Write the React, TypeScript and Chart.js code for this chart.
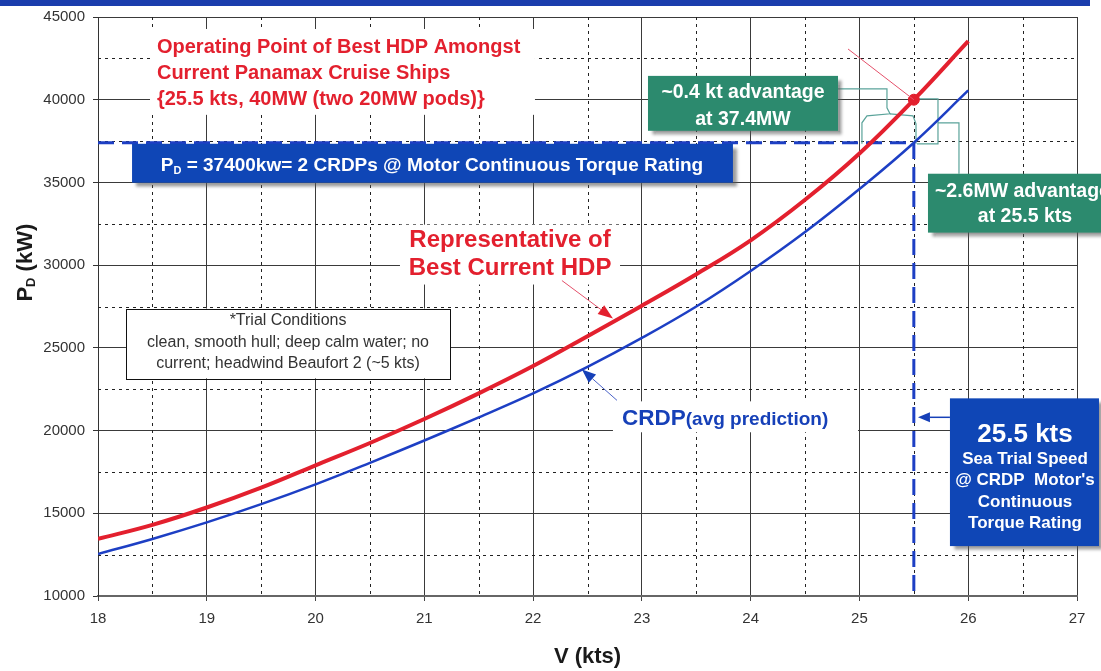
import React, { useEffect, useRef } from "react";
import { Chart, registerables } from "chart.js";

Chart.register(...registerables);

// ---------------- data ----------------
const SPEED_KTS = [18, 18.5, 19, 19.5, 20, 20.5, 21, 21.5, 22, 22.5, 23, 23.5, 24, 24.5, 25, 25.5, 26];
const HDP_KW = [13450, 14300, 15350, 16550, 17900, 19250, 20700, 22250, 23900, 25700, 27550, 29450, 31500, 33950, 36750, 40000, 43540];
const CRDP_KW = [12540, 13450, 14450, 15550, 16750, 18050, 19400, 20800, 22250, 23850, 25600, 27500, 29650, 32000, 34600, 37400, 40560];
const X_TICK_LABELS = ["18", "19", "20", "21", "22", "23", "24", "25", "26", "27"];
const Y_TICK_LABELS = ["10000", "15000", "20000", "25000", "30000", "35000", "40000", "45000"];
const RATED_POWER_KW = 37400;
const TRIAL_SPEED_KTS = 25.5;
const BEST_HDP_POINT = { x: 25.5, y: 40000 };

// ---------------- styles ----------------
const FONT = '"Liberation Sans", Arial, Helvetica, sans-serif';
const fnt = (size: number, bold = true) => `${bold ? "bold " : ""}${size}px ${FONT}`;
const RED = "#e3202e";
const BLUE_LINE = "#1d3fc4";
const BOX_BLUE = "#0f46b6";
const TEXT_BLUE = "#1640b8";
const GREEN = "#2c8a6e";
const TEAL_LINE = "#5aa39a";

type Part = { text: string; font: string; dy?: number };

function richWidth(ctx: CanvasRenderingContext2D, parts: Part[]) {
  let w = 0;
  for (const p of parts) {
    ctx.font = p.font;
    w += ctx.measureText(p.text).width;
  }
  return w;
}

function drawRich(ctx: CanvasRenderingContext2D, parts: Part[], x: number, baseline: number, align: "left" | "center" | "right") {
  const w = richWidth(ctx, parts);
  let cx = align === "center" ? x - w / 2 : align === "right" ? x - w : x;
  ctx.textAlign = "left";
  ctx.textBaseline = "alphabetic";
  for (const p of parts) {
    ctx.font = p.font;
    ctx.fillText(p.text, cx, baseline + (p.dy || 0));
    cx += ctx.measureText(p.text).width;
  }
}

function text(ctx: CanvasRenderingContext2D, s: string, x: number, yMid: number, size: number, color: string, align: CanvasTextAlign = "center", bold = true) {
  ctx.font = fnt(size, bold);
  ctx.fillStyle = color;
  ctx.textAlign = align;
  ctx.textBaseline = "alphabetic";
  ctx.fillText(s, x, yMid + size * 0.36);
}

function arrow(ctx: CanvasRenderingContext2D, x1: number, y1: number, x2: number, y2: number, lineColor: string, headColor: string, lw: number, headLen: number, headW: number) {
  const ang = Math.atan2(y2 - y1, x2 - x1);
  const bx = x2 - Math.cos(ang) * headLen;
  const by = y2 - Math.sin(ang) * headLen;
  ctx.save();
  ctx.strokeStyle = lineColor;
  ctx.lineWidth = lw;
  ctx.setLineDash([]);
  ctx.beginPath();
  ctx.moveTo(x1, y1);
  ctx.lineTo(headLen > 0 ? bx : x2, headLen > 0 ? by : y2);
  ctx.stroke();
  if (headLen > 0) {
    const nx = -Math.sin(ang) * headW / 2;
    const ny = Math.cos(ang) * headW / 2;
    ctx.fillStyle = headColor;
    ctx.beginPath();
    ctx.moveTo(x2, y2);
    ctx.lineTo(bx + nx, by + ny);
    ctx.lineTo(bx - nx, by - ny);
    ctx.closePath();
    ctx.fill();
  }
  ctx.restore();
}

const gridPlugin = {
  id: "minorGridAndBrackets",
  beforeDatasetsDraw(chart: any) {
    const { ctx, chartArea, scales } = chart;
    const X = (v: number) => scales.x.getPixelForValue(v);
    const Y = (v: number) => scales.y.getPixelForValue(v);
    ctx.save();
    ctx.strokeStyle = "#222";
    ctx.lineWidth = 1;
    ctx.setLineDash([3, 4]);
    for (let v = 18.5; v < 27; v += 1) {
      const p = Math.round(X(v)) + 0.5;
      ctx.beginPath();
      ctx.moveTo(p, chartArea.top);
      ctx.lineTo(p, chartArea.bottom);
      ctx.stroke();
    }
    for (let v = 12500; v < 45000; v += 5000) {
      const p = Math.round(Y(v)) + 0.5;
      ctx.beginPath();
      ctx.moveTo(chartArea.left, p);
      ctx.lineTo(chartArea.right, p);
      ctx.stroke();
    }
    // bracket connectors
    ctx.setLineDash([]);
    ctx.strokeStyle = TEAL_LINE;
    ctx.lineWidth = 1.2;
    const poly = (pts: number[][]) => {
      ctx.beginPath();
      pts.forEach(([a, b], i) => (i ? ctx.lineTo(X(a), Y(b)) : ctx.moveTo(X(a), Y(b))));
      ctx.stroke();
    };
    poly([[24.803, 40655], [25.253, 40655], [25.253, 39509], [25.281, 39147], [25.069, 39026], [25.023, 38604], [25.023, 37336]]);
    poly([[25.281, 39147], [25.492, 39026], [25.52, 38543], [25.52, 37336]]);
    poly([[25.492, 40052], [25.722, 40052], [25.722, 37336], [25.529, 37336]]);
    poly([[25.722, 38604], [25.915, 38604], [25.915, 35526]]);
    ctx.restore();
  },
  afterDatasetsDraw(chart: any) {
    const { ctx, scales } = chart;
    const X = (v: number) => scales.x.getPixelForValue(v);
    const Y = (v: number) => scales.y.getPixelForValue(v);
    const rect = (x1: number, y1: number, x2: number, y2: number): [number, number, number, number] => {
      const l = X(x1), r = X(x2), t = Y(y1), b = Y(y2);
      return [l, t, r - l, b - t];
    };
    ctx.save();
    // white backgrounds behind free text
    ctx.fillStyle = "#ffffff";
    ctx.fillRect(...rect(18.478, 44276, 22.017, 39086));
    ctx.fillRect(...rect(20.776, 32448, 22.799, 28828));
    ctx.fillRect(...rect(22.734, 21767, 24.987, 19897));

    // shadowed boxes
    const shadowBox = (r: number[], color: string) => {
      ctx.save();
      ctx.shadowColor = "rgba(90,90,90,0.6)";
      ctx.shadowOffsetX = 4;
      ctx.shadowOffsetY = 4;
      ctx.shadowBlur = 3;
      ctx.fillStyle = color;
      ctx.fillRect(r[0], r[1], r[2], r[3]);
      ctx.restore();
    };
    shadowBox(rect(18.313, 37336, 23.837, 34983), BOX_BLUE);
    shadowBox(rect(23.056, 41440, 24.803, 38121), GREEN);
    shadowBox(rect(25.63, 35526, 27.322, 31966), GREEN);
    shadowBox(rect(25.832, 21948, 27.202, 13017), BOX_BLUE);

    // trial conditions box
    const tr = rect(18.257, 27379, 21.236, 23155);
    ctx.fillStyle = "#fff";
    ctx.fillRect(tr[0], tr[1], tr[2], tr[3]);
    ctx.strokeStyle = "#111";
    ctx.lineWidth = 1;
    ctx.strokeRect(Math.round(tr[0]) + 0.5, Math.round(tr[1]) + 0.5, Math.round(tr[2]), Math.round(tr[3]));

    // red title
    text(ctx, "Operating Point of Best HDP Amongst", X(18.542), Y(43250), 20, RED, "left");
    text(ctx, "Current Panamax Cruise Ships", X(18.542), Y(41681), 20, RED, "left");
    text(ctx, "{25.5 kts, 40MW (two 20MW pods)}", X(18.542), Y(40112), 20, RED, "left");
    arrow(ctx, X(24.895), Y(43066), X(BEST_HDP_POINT.x), Y(BEST_HDP_POINT.y), "#e4506a", RED, 1, 0, 0);

    // P_D box text
    ctx.fillStyle = "#fff";
    drawRich(
      ctx,
      [
        { text: "P", font: fnt(19) },
        { text: "D", font: fnt(11), dy: 3 },
        { text: " = 37400kw= 2 CRDPs @ Motor Continuous Torque Rating", font: fnt(19) },
      ],
      X(21.07),
      Y(36129) + 19 * 0.36,
      "center"
    );

    // green boxes text
    text(ctx, "~0.4 kt advantage", X(23.929), Y(40535), 19.5, "#fff");
    text(ctx, "at 37.4MW", X(23.929), Y(38905), 19.5, "#fff");
    text(ctx, "~2.6MW advantage", X(25.694), Y(34560), 19.5, "#fff", "left");
    text(ctx, "at 25.5 kts", X(26.522), Y(33060), 19.5, "#fff");

    // representative label
    text(ctx, "Representative of", X(21.788), Y(31603), 24, RED);
    text(ctx, "Best Current HDP", X(21.788), Y(29914), 24, RED);
    arrow(ctx, X(22.265), Y(29068), X(22.734), Y(26775), "#e4506a", RED, 1, 15, 11);

    // trial conditions text
    text(ctx, "*Trial Conditions", X(19.747), Y(26716), 16, "#333", "center", false);
    text(ctx, "clean, smooth hull; deep calm water; no", X(19.747), Y(25388), 16, "#333", "center", false);
    text(ctx, "current; headwind Beaufort 2 (~5 kts)", X(19.747), Y(24121), 16, "#333", "center", false);

    // CRDP label
    ctx.fillStyle = TEXT_BLUE;
    drawRich(
      ctx,
      [
        { text: "CRDP", font: fnt(22.5) },
        { text: "(avg prediction)", font: fnt(19) },
      ],
      X(22.817),
      Y(20802) + 22.5 * 0.36,
      "left"
    );
    arrow(ctx, X(22.771), Y(21827), X(22.449), Y(23697), "#4a62c8", TEXT_BLUE, 1, 14, 11);

    // 25.5 kts box
    text(ctx, "25.5 kts", X(26.522), Y(19897), 26, "#fff");
    text(ctx, "Sea Trial Speed", X(26.522), Y(18328), 17, "#fff");
    text(ctx, "@ CRDP  Motor's", X(26.522), Y(17060), 17, "#fff");
    text(ctx, "Continuous", X(26.522), Y(15733), 17, "#fff");
    text(ctx, "Torque Rating", X(26.522), Y(14466), 17, "#fff");
    arrow(ctx, X(25.832), Y(20802), X(25.538), Y(20802), TEXT_BLUE, TEXT_BLUE, 1.5, 12, 10);
    ctx.restore();
  },
  afterDraw(chart: any) {
    const { ctx, chartArea, scales } = chart;
    ctx.save();
    // top band
    ctx.fillStyle = "#1a3dad";
    ctx.fillRect(0, 0, 1090, 6);
    // axis titles
    ctx.fillStyle = "#1a1a1a";
    ctx.save();
    ctx.translate(chartArea.left - 74, scales.y.getPixelForValue(30150));
    ctx.rotate(-Math.PI / 2);
    drawRich(
      ctx,
      [
        { text: "P", font: fnt(22) },
        { text: "D", font: fnt(13), dy: 3 },
        { text: " (kW)", font: fnt(22) },
      ],
      0,
      8,
      "center"
    );
    ctx.restore();
    ctx.font = fnt(22);
    ctx.textAlign = "center";
    ctx.textBaseline = "alphabetic";
    ctx.fillText("V (kts)", (chartArea.left + chartArea.right) / 2, chartArea.bottom + 67);
    ctx.restore();
  },
};

export default function App() {
  const ref = useRef<HTMLCanvasElement | null>(null);
  useEffect(() => {
    if (!ref.current) return;
    const chart = new Chart(ref.current, {
      type: "line",
      data: {
        datasets: [
          {
            label: "Best HDP operating point",
            data: [BEST_HDP_POINT],
            showLine: false,
            pointRadius: 5.5,
            pointBackgroundColor: RED,
            pointBorderColor: RED,
          },
          {
            label: "Representative of Best Current HDP",
            data: SPEED_KTS.map((s, i) => ({ x: s, y: HDP_KW[i] })),
            borderColor: RED,
            borderWidth: 4,
            pointRadius: 0,
            tension: 0.4,
          },
          {
            label: "CRDP (avg prediction)",
            data: SPEED_KTS.map((s, i) => ({ x: s, y: CRDP_KW[i] })),
            borderColor: BLUE_LINE,
            borderWidth: 2.5,
            pointRadius: 0,
            tension: 0.4,
          },
          {
            label: "Motor continuous torque rating",
            data: [
              { x: 18, y: RATED_POWER_KW },
              { x: TRIAL_SPEED_KTS, y: RATED_POWER_KW },
              { x: TRIAL_SPEED_KTS, y: 10000 },
            ],
            borderColor: BLUE_LINE,
            borderWidth: 3,
            borderDash: [16, 8],
            pointRadius: 0,
            tension: 0,
          },
        ],
      },
      options: {
        responsive: false,
        animation: false,
        events: [],
        layout: { padding: { top: 16, right: 24, left: 0, bottom: 0 } },
        plugins: { legend: { display: false }, tooltip: { enabled: false } },
        scales: {
          x: {
            type: "linear",
            min: 18,
            max: 27,
            afterFit: (s: any) => {
              s.height = 75;
            },
            ticks: {
              stepSize: 1,
              autoSkip: false,
              maxRotation: 0,
              color: "#333",
              font: { family: FONT, size: 15 },
              padding: 9,
              callback: (v: any) => X_TICK_LABELS.find((l) => Number(l) === Number(v)) ?? "",
            },
            grid: { color: "#3a3a3a", lineWidth: 1, tickLength: 5, tickColor: "#444" },
            border: { color: "#666", width: 2 },
          },
          y: {
            type: "linear",
            min: 10000,
            max: 45000,
            afterFit: (s: any) => {
              s.width = 98;
            },
            ticks: {
              stepSize: 5000,
              color: "#333",
              font: { family: FONT, size: 15 },
              padding: 8,
              callback: (v: any) => Y_TICK_LABELS.find((l) => Number(l) === Number(v)) ?? "",
            },
            grid: { color: "#3a3a3a", lineWidth: 1, tickLength: 5, tickColor: "#333" },
            border: { color: "#333", width: 1 },
          },
        },
      },
      plugins: [gridPlugin],
    });
    return () => chart.destroy();
  }, []);
  return (
    <div style={{ position: "absolute", left: 0, top: 0, width: 1101, height: 671, background: "#fff" }}>
      <canvas ref={ref} width={1101} height={671} style={{ display: "block", width: 1101, height: 671 }} />
    </div>
  );
}
